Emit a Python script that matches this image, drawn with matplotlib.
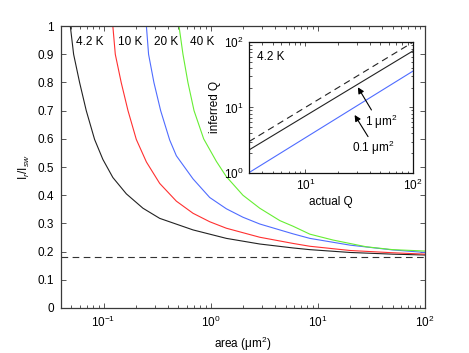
import matplotlib
matplotlib.use("Agg")
import matplotlib.pyplot as plt
from matplotlib.ticker import FixedLocator, FixedFormatter, LogLocator, NullFormatter

plt.rcParams['font.family'] = ['Liberation Sans', 'DejaVu Sans']
plt.rcParams['mathtext.fontset'] = 'custom'
plt.rcParams['mathtext.rm'] = 'Liberation Sans'
plt.rcParams['mathtext.it'] = 'Liberation Sans:italic'
plt.rcParams['mathtext.bf'] = 'Liberation Sans:bold'

# ---- main panel data (area in um^2, I_r/I_sw) ----
area_42K = [0.0489, 0.0525, 0.0597, 0.0689, 0.0824, 0.0985, 0.122, 0.163, 0.233, 0.334, 0.684, 1.40, 2.87, 5.88, 8.42, 20, 50, 100]
ratio_42K = [1.0, 0.9, 0.8, 0.7, 0.598, 0.527, 0.463, 0.405, 0.354, 0.318, 0.277, 0.247, 0.227, 0.213, 0.207, 0.197, 0.191, 0.188]
area_10K = [0.122, 0.1286, 0.146, 0.169, 0.202, 0.251, 0.334, 0.478, 0.684, 0.979, 1.40, 2.87, 5.88, 8.42, 20, 50, 100]
ratio_10K = [1.0, 0.9, 0.8, 0.7, 0.598, 0.518, 0.442, 0.379, 0.336, 0.306, 0.283, 0.251, 0.229, 0.219, 0.204, 0.196, 0.191]
area_20K = [0.251, 0.263, 0.295, 0.341, 0.414, 0.478, 0.684, 0.979, 1.40, 2.0, 2.87, 5.88, 8.42, 20, 50, 100]
ratio_20K = [1.0, 0.9, 0.8, 0.7, 0.596, 0.540, 0.458, 0.392, 0.352, 0.322, 0.298, 0.263, 0.247, 0.223, 0.206, 0.197]
area_40K = [0.506, 0.551, 0.613, 0.699, 0.86, 1.13, 1.40, 2.0, 2.87, 4.42, 5.88, 8.42, 13.9, 28.5, 50, 100]
ratio_40K = [1.0, 0.9, 0.8, 0.7, 0.6, 0.52, 0.466, 0.40, 0.354, 0.31, 0.29, 0.262, 0.241, 0.217, 0.207, 0.202]
limit_ratio = 0.18
temp_labels = ['4.2 K', '10 K', '20 K', '40 K']
temp_label_x = [0.0547, 0.136, 0.293, 0.637]

# ---- inset data ----
actual_Q = [3, 100]
inferred_ideal = [3, 100]
inferred_1um = [2.23, 73.5]
inferred_01um = [1.0, 36]

yticks = [0, 0.1, 0.2, 0.3, 0.4, 0.5, 0.6, 0.7, 0.8, 0.9, 1]
ytick_labels = ['0', '0.1', '0.2', '0.3', '0.4', '0.5', '0.6', '0.7', '0.8', '0.9', '1']

FS = 8.5
spine_c = '#3a3a3a'

fig = plt.figure(figsize=(4.69, 3.53), dpi=100)
ax = fig.add_axes([0.130, 0.1275, 0.776, 0.7985])

cols = ['#222222', '#ff3030', '#4f6cff', '#66ee33']
for a, r, c in zip([area_42K, area_10K, area_20K, area_40K],
                   [ratio_42K, ratio_10K, ratio_20K, ratio_40K], cols):
    ax.plot(a, r, color=c, lw=0.8)
ax.axhline(limit_ratio, color='#333333', lw=0.8, dashes=(6, 4))

ax.set_xscale('log')
ax.set_xlim(0.04, 100)
ax.set_ylim(0, 1)
ax.yaxis.set_major_locator(FixedLocator(yticks))
ax.yaxis.set_major_formatter(FixedFormatter(ytick_labels))
ax.xaxis.set_major_locator(LogLocator(base=10, numticks=10))
ax.xaxis.set_minor_locator(LogLocator(base=10, subs=range(2, 10), numticks=20))
ax.xaxis.set_minor_formatter(NullFormatter())
ax.tick_params(which='both', direction='in', top=True, right=True, labelsize=FS, color=spine_c, pad=5)
ax.tick_params(which='major', length=3.5, width=0.6)
ax.tick_params(which='minor', length=2, width=0.6)
for s in ax.spines.values():
    s.set_color(spine_c)
    s.set_linewidth(0.9)
ax.set_xlabel('area (μm$^2$)', fontsize=FS, labelpad=3)
ax.set_ylabel('I$_r$/I$_{sw}$', fontsize=FS, labelpad=4)

for t, x in zip(temp_labels, temp_label_x):
    ax.text(x, 0.944, t, fontsize=FS, ha='left', va='center')

# ---- inset ----
ins = fig.add_axes([0.531, 0.511, 0.349, 0.369])
ins.plot(actual_Q, inferred_ideal, color='#222222', lw=0.8, dashes=(6, 4))
ins.plot(actual_Q, inferred_1um, color='#222222', lw=0.8)
ins.plot(actual_Q, inferred_01um, color='#4f6cff', lw=0.8)
ins.set_xscale('log')
ins.set_yscale('log')
ins.set_xlim(3, 100)
ins.set_ylim(1, 100)
ins.tick_params(which='both', direction='in', top=True, right=True, labelsize=FS, color=spine_c, pad=4)
ins.tick_params(which='major', length=3, width=0.6)
ins.tick_params(which='minor', length=1.8, width=0.6)
for s in ins.spines.values():
    s.set_color('#111111')
    s.set_linewidth(0.9)
ins.set_xlabel('actual Q', fontsize=FS, labelpad=2)
ins.set_ylabel('inferred Q', fontsize=FS, labelpad=2)
ins.text(3.57, 60, '4.2 K', fontsize=FS, ha='left', va='center')

ap = dict(arrowstyle='-|>', color='black', lw=0.8, mutation_scale=9, shrinkA=0, shrinkB=0)
ins.annotate('', xy=(30.9, 20.4), xytext=(41.3, 9.16), arrowprops=ap)
ins.text(36, 6.0, '1 μm$^2$', fontsize=FS, ha='left', va='center')
ins.annotate('', xy=(28.8, 7.67), xytext=(38.4, 3.57), arrowprops=ap)
ins.text(27.4, 2.37, '0.1 μm$^2$', fontsize=FS, ha='left', va='center')

fig.savefig('out.png', dpi=100)
